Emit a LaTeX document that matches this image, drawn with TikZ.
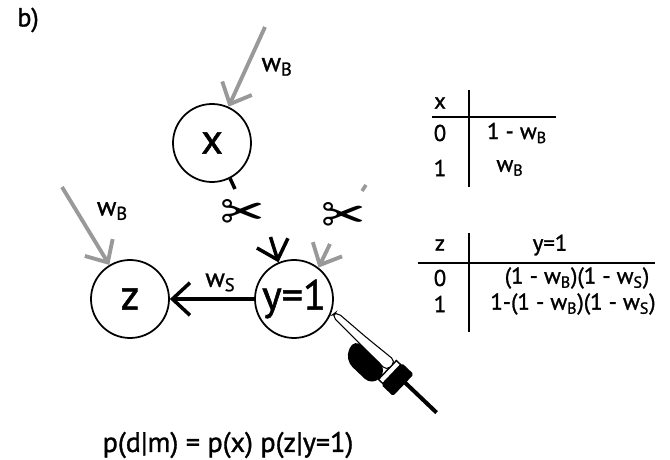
\documentclass[tikz,border=0pt]{standalone}
\usepackage{fontspec}
\setmainfont[FakeBold=1.2, AutoFakeBold=1.2]{PT Sans}
\newfontfamily\dejavu{DejaVu Sans}
\usetikzlibrary{arrows.meta, positioning}
\definecolor{cutgray}{gray}{0.6}
\newcommand{\wB}{w\textsubscript{B}}
\newcommand{\wS}{w\textsubscript{S}}

\begin{document}
\begin{tikzpicture}[
    >={Straight Barb[length=3.5mm, width=6.5mm]},
    var/.style={circle, draw, line width=1pt, minimum size=1.56cm, inner sep=0pt, font=\fontsize{24}{28}\selectfont},
    noise/.style={->, draw=cutgray, line width=2.2pt},
    cause/.style={->, line width=2pt},
    wlabel/.style={font=\fontsize{15}{17}\selectfont, text=black},
    cell/.style={font=\fontsize{13}{15}\selectfont, inner sep=0pt},
    scissor/.style={font=\dejavu\fontsize{30}{30}\selectfont}
]
\useasboundingbox (0,0) rectangle (13.4,9.18);

\node[font=\fontsize{15}{17}\selectfont] (tag) at (0.56,8.78) {b)};

% Variables of the network
\node[var] (x) at (4.24,6.32) {x};
\node[var] (z) at (2.60,3.20) {z};
\node[var] (y) at (5.88,3.20) {y=1};

% Background causes (gray)
\coordinate (bx) at (5.30,8.64);
\coordinate (bz) at (1.24,5.44);
\path (bx) edge[noise] node[wlabel, right=4pt] {\wB} (x);
\path (bz) edge[noise] node[wlabel, above right=-1pt and 2pt] {\wB} (z);

% Link from y to z
\path (y) edge[cause] node[wlabel, above, pos=0.4] {\wS} (z);

% Links into y, cut by the intervention
\coordinate (xstub) at (4.70,5.40);
\coordinate (ycut1) at (5.41,4.44);
\coordinate (ycut2) at (6.60,4.30);
\coordinate (gstub1) at (7.24,5.36);
\coordinate (gstub2) at (7.32,5.48);
\draw[line width=2pt] (x.-63) -- (xstub);
\draw[cutgray, line width=2pt] (gstub1) -- (gstub2);
\path (ycut1) edge[cause] (y.113);
\path (ycut2) edge[noise] (y.52);

\node[scissor] (cut1) at (4.86,4.88) {✂};
\node[scissor] (cut2) at (6.88,4.82) {✂};

% Pointing hand setting y
\begin{scope}[shift={(6.66,2.90)}, rotate=-43.6, x=0.02cm, y=0.02cm]
  \fill (98,-2) rectangle (143,2);
  \fill[rounded corners=1pt] (84,-18) rectangle (100,12);
  \filldraw[fill=white, line width=0.8pt] (78,-16) rectangle (84,10);
  \filldraw[fill=white, line width=0.6pt, rounded corners=3pt]
    (0,-2) -- (40,-3) -- (78,-4) -- (78,9) -- (40,6) -- (1,4) -- cycle;
  \fill[rounded corners=6pt] (32,-3) -- (78,-3) -- (78,-25) -- (40,-25) -- cycle;
\end{scope}

% Table for p(x)
\node[cell] (xh) at (8.80,7.12) {x};
\node[cell] (x0) at (8.80,6.52) {0};
\node[cell] (x0v) at (10.34,6.52) {1 - \wB};
\node[cell] (x1) at (8.80,5.82) {1};
\node[cell] (x1v) at (10.20,5.82) {\wB};
\draw[line width=1pt] (9.38,7.38) -- (9.38,5.44);
\draw[line width=1pt] (8.64,6.84) -- (11.12,6.84);

% Table for p(z|y=1)
\node[cell] (zh) at (8.80,4.28) {z};
\node[cell] (yh) at (11.00,4.28) {y=1};
\node[cell] (z0) at (8.80,3.62) {0};
\node[cell] (z0v) at (11.54,3.62) {(1 - \wB)(1 - \wS)};
\node[cell] (z1) at (8.80,3.10) {1};
\node[cell] (z1v) at (11.46,3.10) {1-(1 - \wB)(1 - \wS)};
\draw[line width=1pt] (9.38,4.52) -- (9.38,2.54);
\draw[line width=1pt] (8.36,3.92) -- (13.10,3.92);

% Likelihood
\node[font=\fontsize{16}{18}\selectfont] (lik) at (4.56,0.28) {p(d|m) = p(x) p(z|y=1)};

\end{tikzpicture}
\end{document}
